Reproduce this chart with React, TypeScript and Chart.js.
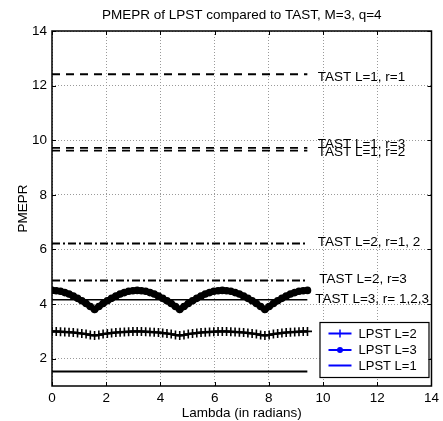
import React, { useEffect, useRef } from 'react';
import { Chart, registerables } from 'chart.js';

Chart.register(...registerables);

// ---- data ----
const lambda = [
  0, 0.157, 0.314, 0.471, 0.628, 0.785, 0.942, 1.1, 1.257, 1.414,
  1.571, 1.728, 1.885, 2.042, 2.199, 2.356, 2.513, 2.67, 2.827, 2.985,
  3.142, 3.299, 3.456, 3.613, 3.77, 3.927, 4.084, 4.241, 4.398, 4.555,
  4.712, 4.869, 5.027, 5.184, 5.341, 5.498, 5.655, 5.812, 5.969, 6.126,
  6.283, 6.44, 6.597, 6.754, 6.912, 7.069, 7.226, 7.383, 7.54, 7.697,
  7.854, 8.011, 8.168, 8.325, 8.482, 8.639, 8.796, 8.954, 9.111, 9.268,
  9.425,
];

const lpstL2 = [
  3.0, 3.0, 2.99, 2.98, 2.97, 2.96, 2.94, 2.92, 2.9, 2.87,
  2.85, 2.87, 2.9, 2.92, 2.94, 2.96, 2.97, 2.98, 2.99, 3.0,
  3.0, 3.0, 2.99, 2.98, 2.97, 2.96, 2.94, 2.92, 2.9, 2.87,
  2.85, 2.87, 2.9, 2.92, 2.94, 2.96, 2.97, 2.98, 2.99, 3.0,
  3.0, 3.0, 2.99, 2.98, 2.97, 2.96, 2.94, 2.92, 2.9, 2.87,
  2.85, 2.87, 2.9, 2.92, 2.94, 2.96, 2.97, 2.98, 2.99, 3.0,
  3.0,
];

const lpstL3 = [
  4.5, 4.49, 4.47, 4.42, 4.37, 4.29, 4.21, 4.12, 4.02, 3.91,
  3.8, 3.91, 4.02, 4.12, 4.21, 4.29, 4.37, 4.42, 4.47, 4.49,
  4.5, 4.49, 4.47, 4.42, 4.37, 4.29, 4.21, 4.12, 4.02, 3.91,
  3.8, 3.91, 4.02, 4.12, 4.21, 4.29, 4.37, 4.42, 4.47, 4.49,
  4.5, 4.49, 4.47, 4.42, 4.37, 4.29, 4.21, 4.12, 4.02, 3.91,
  3.8, 3.91, 4.02, 4.12, 4.21, 4.29, 4.37, 4.42, 4.47, 4.49,
  4.5,
];

const flatX = [0, 9.42];
const lpstL1 = [1.53, 1.53];
const tastL1r1 = [12.42, 12.42];
const tastL1r3 = [9.72, 9.72];
const tastL1r2 = [9.62, 9.62];
const tastL2r12 = [6.22, 6.22];
const tastL2r3 = [4.86, 4.86];
const tastL3 = [4.16, 4.16];

const xTicks = [0, 2, 4, 6, 8, 10, 12, 14];
const yTicks = [2, 4, 6, 8, 10, 12, 14];

const noteTexts = [
  'TAST L=1, r=1',
  'TAST L=1, r=3',
  'TAST L=1, r=2',
  'TAST L=2, r=1, 2',
  'TAST L=2, r=3',
  'TAST L=3, r= 1,2,3',
];
const noteX = [9.8, 9.8, 9.8, 9.8, 9.86, 9.71];
const noteY = [12.3, 9.86, 9.56, 6.27, 4.91, 4.19];

const legendLabels = ['LPST L=2', 'LPST L=3', 'LPST L=1'];

const titleText = 'PMEPR of LPST compared to TAST, M=3, q=4';
const xTitle = 'Lambda (in radians)';
const yTitle = 'PMEPR';

const FONT = '"Liberation Sans", Arial, Helvetica, sans-serif';
const FS = 13.5;

const pts = (xs: number[], ys: number[]) => xs.map((x, i) => ({ x, y: ys[i] }));

const decor = {
  id: 'decor',
  afterDraw(chart: any) {
    const { ctx, chartArea: ca, scales } = chart;
    const xs = scales.x;
    const ys = scales.y;
    ctx.save();
    // box
    ctx.strokeStyle = '#000';
    ctx.lineWidth = 1.5;
    ctx.setLineDash([]);
    ctx.strokeRect(ca.left, ca.top, ca.right - ca.left, ca.bottom - ca.top);
    // inner ticks
    ctx.lineWidth = 1;
    const tl = 4;
    xTicks.forEach((v) => {
      const px = Math.round(xs.getPixelForValue(v)) + 0.5;
      ctx.beginPath();
      ctx.moveTo(px, ca.bottom);
      ctx.lineTo(px, ca.bottom - tl);
      ctx.moveTo(px, ca.top);
      ctx.lineTo(px, ca.top + tl);
      ctx.stroke();
    });
    yTicks.forEach((v) => {
      const py = Math.round(ys.getPixelForValue(v)) + 0.5;
      ctx.beginPath();
      ctx.moveTo(ca.left, py);
      ctx.lineTo(ca.left + tl, py);
      ctx.moveTo(ca.right, py);
      ctx.lineTo(ca.right - tl, py);
      ctx.stroke();
    });
    // annotations
    ctx.fillStyle = '#000';
    ctx.font = `${FS}px ${FONT}`;
    ctx.textAlign = 'left';
    ctx.textBaseline = 'middle';
    noteTexts.forEach((t, i) => {
      ctx.fillText(t, xs.getPixelForValue(noteX[i]), ys.getPixelForValue(noteY[i]));
    });
    // title & axis titles
    ctx.textAlign = 'center';
    ctx.fillText(titleText, (ca.left + ca.right) / 2, 15);
    ctx.fillText(xTitle, (ca.left + ca.right) / 2, 413);
    ctx.save();
    ctx.translate(23, (ca.top + ca.bottom) / 2);
    ctx.rotate(-Math.PI / 2);
    ctx.fillText(yTitle, 0, 0);
    ctx.restore();
    // legend
    const bw = 109;
    const bh = 55;
    const bx = ca.right - 112;
    const by = ca.bottom - 64;
    ctx.fillStyle = '#fff';
    ctx.fillRect(bx, by, bw, bh);
    ctx.strokeStyle = '#000';
    ctx.lineWidth = 1.2;
    ctx.strokeRect(bx + 0.5, by + 0.5, bw, bh);
    const rows = [11.5, 28, 43.5];
    ctx.font = `13px ${FONT}`;
    ctx.strokeStyle = '#0000ff';
    ctx.fillStyle = '#0000ff';
    rows.forEach((ry, i) => {
      const y = by + ry;
      ctx.lineWidth = 2;
      ctx.beginPath();
      ctx.moveTo(bx + 9, y);
      ctx.lineTo(bx + 32, y);
      ctx.stroke();
      const mx = bx + 20.5;
      if (i === 0) {
        ctx.lineWidth = 1.5;
        ctx.beginPath();
        ctx.moveTo(mx, y - 4);
        ctx.lineTo(mx, y + 4);
        ctx.stroke();
      } else if (i === 1) {
        ctx.beginPath();
        ctx.arc(mx, y, 3, 0, Math.PI * 2);
        ctx.fill();
      }
      ctx.fillStyle = '#000';
      ctx.textAlign = 'left';
      ctx.fillText(legendLabels[i], bx + 39, y + 0.5);
      ctx.fillStyle = '#0000ff';
    });
    ctx.restore();
  },
};

export default function App() {
  const ref = useRef<HTMLCanvasElement | null>(null);
  useEffect(() => {
    if (!ref.current) return;
    const solid = (label: string, data: any, width: number, dash: number[] = []) => ({
      label,
      data,
      borderColor: '#000',
      backgroundColor: '#000',
      borderWidth: width,
      borderDash: dash,
      pointRadius: 0,
      tension: 0,
    });
    const chart = new Chart(ref.current, {
      type: 'line',
      data: {
        datasets: [
          {
            label: legendLabels[0],
            data: pts(lambda, lpstL2),
            borderColor: '#000',
            backgroundColor: '#000',
            borderWidth: 2.5,
            pointStyle: 'cross',
            pointRadius: 4.5,
            pointBorderWidth: 1.6,
            pointBorderColor: '#000',
            tension: 0,
          },
          {
            label: legendLabels[1],
            data: pts(lambda, lpstL3),
            borderColor: '#000',
            backgroundColor: '#000',
            borderWidth: 6,
            pointStyle: 'circle',
            pointRadius: 3.8,
            pointBorderWidth: 0,
            pointBackgroundColor: '#000',
            tension: 0,
          },
          solid(legendLabels[2], pts(flatX, lpstL1), 2),
          solid('TAST L=1, r=1', pts(flatX, tastL1r1), 2, [8, 6]),
          solid('TAST L=1, r=3', pts(flatX, tastL1r3), 1.8, [8, 6]),
          solid('TAST L=1, r=2', pts(flatX, tastL1r2), 1.8, [8, 6]),
          solid('TAST L=2, r=1, 2', pts(flatX, tastL2r12), 2, [8, 3, 2, 3]),
          solid('TAST L=2, r=3', pts(flatX, tastL2r3), 2, [8, 3, 2, 3]),
          solid('TAST L=3, r= 1,2,3', pts(flatX, tastL3), 1.5),
        ],
      },
      options: {
        animation: false,
        responsive: false,
        layout: { padding: { top: 31, right: 8, left: 0, bottom: 0 } },
        plugins: {
          legend: { display: false },
          title: { display: false },
          tooltip: { enabled: false },
        },
        scales: {
          x: {
            type: 'linear',
            min: 0,
            max: 14,
            afterBuildTicks: (s: any) => {
              s.ticks = xTicks.map((v) => ({ value: v }));
            },
            afterFit: (s: any) => {
              s.height = 35;
            },
            ticks: {
              font: { family: FONT, size: FS },
              color: '#000',
              padding: 4,
              maxRotation: 0,
              autoSkip: false,
            },
            grid: { color: '#9a9a9a', lineWidth: 1, drawTicks: false },
            border: { display: false, dash: [1, 2] },
          },
          y: {
            type: 'linear',
            min: 1,
            max: 14,
            afterBuildTicks: (s: any) => {
              s.ticks = yTicks.map((v) => ({ value: v }));
            },
            afterFit: (s: any) => {
              s.width = 52;
            },
            ticks: {
              font: { family: FONT, size: FS },
              color: '#000',
              padding: 5,
              autoSkip: false,
            },
            grid: { color: '#9a9a9a', lineWidth: 1, drawTicks: false },
            border: { display: false, dash: [1, 2] },
          },
        },
      },
      plugins: [decor],
    } as any);
    return () => chart.destroy();
  }, []);
  return (
    <div style={{ position: 'fixed', left: 0, top: 0, width: 443, height: 421, background: '#fff' }}>
      <canvas ref={ref} width={443} height={421} style={{ width: 443, height: 421, display: 'block' }} />
    </div>
  );
}
